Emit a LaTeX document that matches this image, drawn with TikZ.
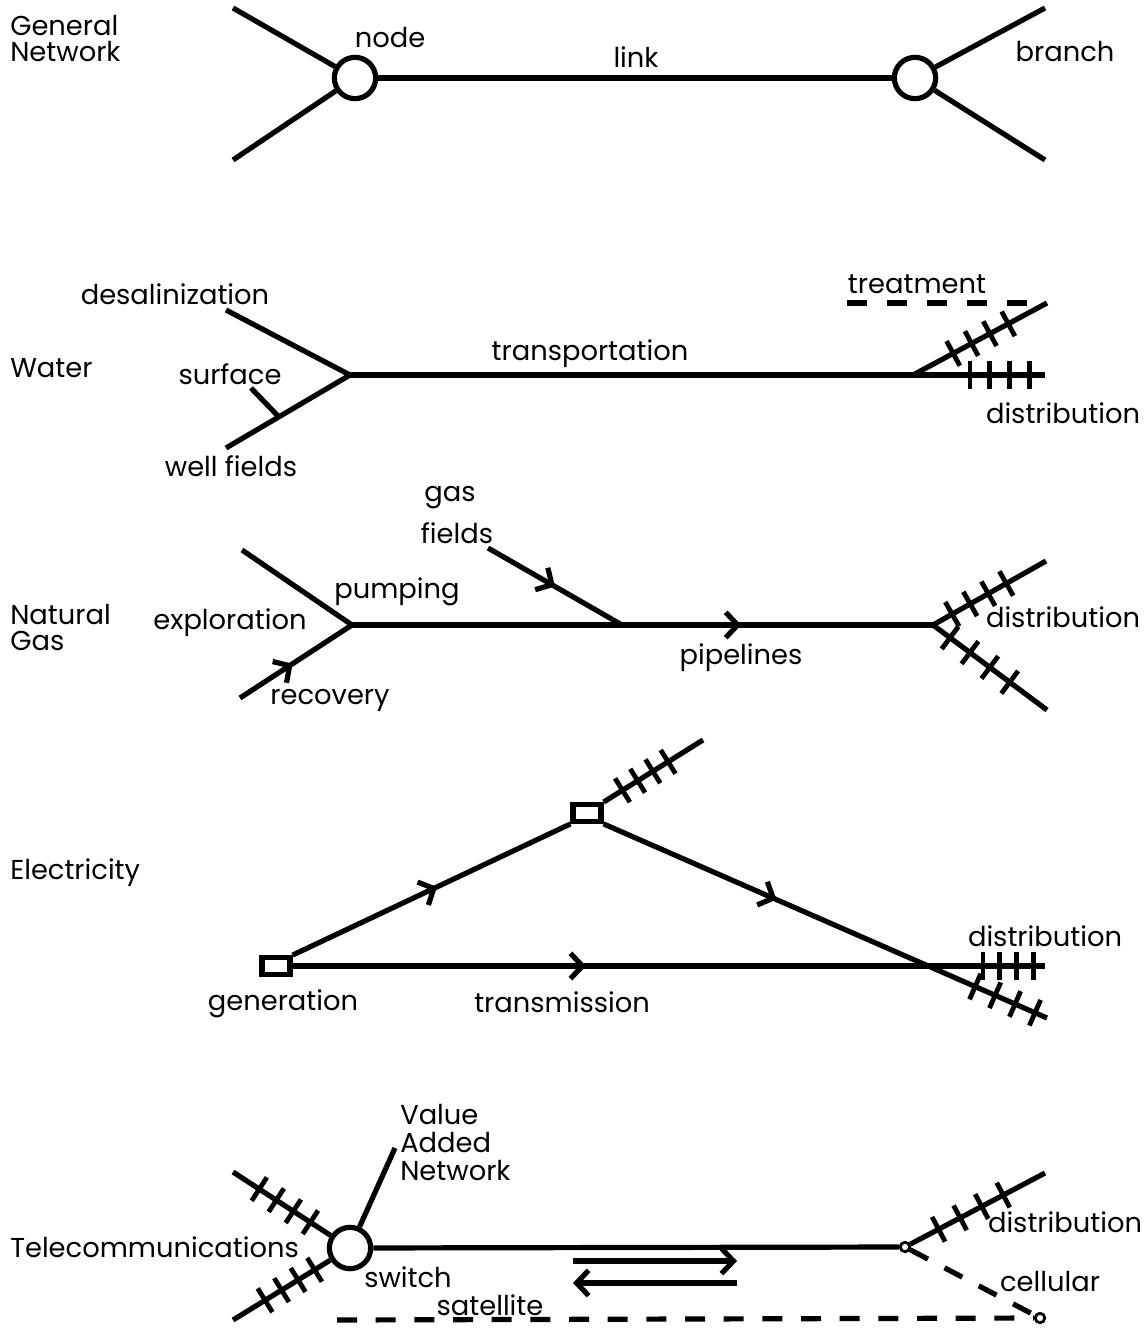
\documentclass[tikz,border=0pt]{standalone}
\usepackage{fontspec}
\setmainfont{Poppins}
\usetikzlibrary{arrows.meta,decorations.markings}
\tikzset{
  net/.style={line width=3.9pt},
  lbl/.style={font=\fontsize{20.5}{19.5}\selectfont, inner sep=0pt},
  side/.style={lbl, anchor=west, align=left},
  bignode/.style={circle, draw, net, minimum size=31pt, inner sep=0pt},
  smallnode/.style={circle, draw, line width=2pt, minimum size=7pt, inner sep=0pt, fill=white},
  boxnode/.style={rectangle, draw, net, minimum width=21pt, minimum height=12.5pt, inner sep=0pt},
  dashline/.style={net, dash pattern=on 15pt off 14pt},
  hatch/.style n args={3}{postaction={decorate,decoration={markings,
      mark=between positions #1 and #2 step #3 with {\draw[line width=3.6pt] (0,-14) -- (0,14);}}}},
  midarrow/.style={postaction={decorate,decoration={markings,
      mark=at position #1 with {\arrow[line width=3.9pt]{Straight Barb[length=9pt,width=19pt]}}}}},
}
\begin{document}
\begin{tikzpicture}[x=0.75pt,y=-0.75pt]
\useasboundingbox (0,0) rectangle (1148,1330);

% ---------------- General Network ----------------
\node[side] (gnlbl) at (10,39) {General\\Network};
\node[bignode] (gn1) at (355,78) {};
\node[bignode] (gn2) at (915,78) {};
\coordinate (gna) at (233,8);
\coordinate (gnb) at (233,160);
\coordinate (gnc) at (1045,8);
\coordinate (gnd) at (1045,160);
\draw[net] (gna) -- (gn1);
\draw[net] (gnb) -- (gn1);
\draw[net] (gn1) -- (gn2);
\draw[net] (gn2) -- (gnc);
\draw[net] (gn2) -- (gnd);
\node[lbl] (gnnode) at (390,38) {node};
\node[lbl] (gnlink) at (636,57) {link};
\node[lbl] (gnbranch) at (1065,52) {branch};

% ---------------- Water ----------------
\node[side] (wlbl) at (10,368) {Water};
\coordinate (wj) at (350,375);
\coordinate (wd) at (226,310);
\coordinate (ww) at (226,448);
\coordinate (wsurf) at (251,388);
\coordinate (wsurfend) at (278,416);
\coordinate (wend) at (1045,375);
\coordinate (wsplit) at (913,375);
\coordinate (wbr) at (1047,303);
\coordinate (wt1) at (847,303);
\coordinate (wt2) at (1027,303);
\draw[net] (wd) -- (wj);
\draw[net] (ww) -- (wj);
\draw[net] (wsurf) -- (wsurfend);
\draw[net, hatch={0.892}{0.98}{0.0285}] (wj) -- (wend);
\draw[net, hatch={0.30}{0.72}{0.137}] (wsplit) -- (wbr);
\draw[net, dash pattern=on 15pt off 15pt] (wt1) -- (wt2);
\node[lbl] (wdes) at (175,294) {desalinization};
\node[lbl] (wsur) at (230,374) {surface};
\node[lbl] (wwell) at (231,466) {well fields};
\node[lbl] (wtrans) at (590,354) {transportation};
\node[lbl] (wtreat) at (917,284) {treatment};
\node[lbl] (wdist) at (1063,413) {distribution};

% ---------------- Natural Gas ----------------
\node[side] (glbl) at (10,628) {Natural\\Gas};
\coordinate (gj) at (352,625);
\coordinate (gexp) at (242,550);
\coordinate (grec) at (240,698);
\coordinate (gf) at (488,548);
\coordinate (gfj) at (622,625);
\coordinate (gsplit) at (933,625);
\coordinate (gd1) at (1046,561);
\coordinate (gd2) at (1047,710);
\draw[net] (gexp) -- (gj);
\draw[net, midarrow=0.47] (grec) -- (gj);
\draw[net, midarrow=0.67] (gj) -- (gsplit);
\draw[net, midarrow=0.5] (gf) -- (gfj);
\draw[net, hatch={0.17}{0.66}{0.16}] (gsplit) -- (gd1);
\draw[net, hatch={0.15}{0.68}{0.175}] (gsplit) -- (gd2);
\node[lbl] (ggas) at (450,498) {gas};
\node[lbl] (gfields) at (457,533) {fields};
\node[lbl] (gpump) at (397,592) {pumping};
\node[lbl] (gexpl) at (230,623) {exploration};
\node[lbl] (grecl) at (330,700) {recovery};
\node[lbl] (gpipe) at (741,658) {pipelines};
\node[lbl] (gdist) at (1063,617) {distribution};

% ---------------- Electricity ----------------
\node[side] (elbl) at (10,873) {Electricity};
\node[boxnode] (eg) at (276,966) {};
\node[boxnode] (et) at (587,813) {};
\coordinate (etr) at (703,740);
\coordinate (edr) at (1047,1018);
\coordinate (ehr) at (1045,966);
\draw[net, midarrow=0.52] (eg.north east) -- (et.south west);
\draw[net, hatch={0.19}{0.66}{0.153}] (et.north east) -- (etr);
\draw[net, midarrow=0.39, hatch={0.838}{0.98}{0.045}] (et.south east) -- (edr);
\draw[net, midarrow=0.39, hatch={0.9176}{0.99}{0.0222}] (eg.east) -- (ehr);
\node[lbl] (egen) at (283,1004) {generation};
\node[lbl] (etrans) at (562,1002) {transmission};
\node[lbl] (edist) at (1045,936) {distribution};

% ---------------- Telecommunications ----------------
\node[side] (tlbl) at (10,1247) {Telecommunications};
\node[bignode] (ts) at (350,1248) {};
\node[smallnode] (tc1) at (905,1247) {};
\node[smallnode] (tc2) at (1040,1318) {};
\coordinate (tul) at (233,1172);
\coordinate (tll) at (233,1320);
\coordinate (tvan) at (395,1148);
\coordinate (tdist) at (1045,1173);
\coordinate (tsat) at (337,1320);
\coordinate (ta1) at (573,1261);
\coordinate (ta2) at (737,1261);
\coordinate (tb1) at (737,1283);
\coordinate (tb2) at (573,1283);
\draw[net, hatch={0.27}{0.82}{0.175}] (tul) -- (ts);
\draw[net, hatch={0.33}{0.85}{0.17}] (tll) -- (ts);
\draw[net] (ts) -- (tvan);
\draw[net] (ts) -- (tc1);
\draw[net, hatch={0.21}{0.70}{0.16}] (tc1) -- (tdist);
\draw[dashline] (tc1) -- (tc2);
\draw[dashline] (tsat) -- (tc2);
\draw[net, -{Straight Barb[length=9pt,width=19pt]}] (ta1) -- (ta2);
\draw[net, -{Straight Barb[length=9pt,width=19pt]}] (tb1) -- (tb2);
\node[smallnode] (tc1b) at (905,1247) {};
\node[smallnode] (tc2b) at (1040,1318) {};
\node[lbl, anchor=west, align=left] (tvanl) at (400,1142) {Value\\[1.5pt]Added\\[1.5pt]Network};
\node[lbl] (tsw) at (408,1277) {switch};
\node[lbl] (tsatl) at (490,1305) {satellite};
\node[lbl] (tdistl) at (1065,1222) {distribution};
\node[lbl] (tcell) at (1050,1281) {cellular};
\end{tikzpicture}
\end{document}
